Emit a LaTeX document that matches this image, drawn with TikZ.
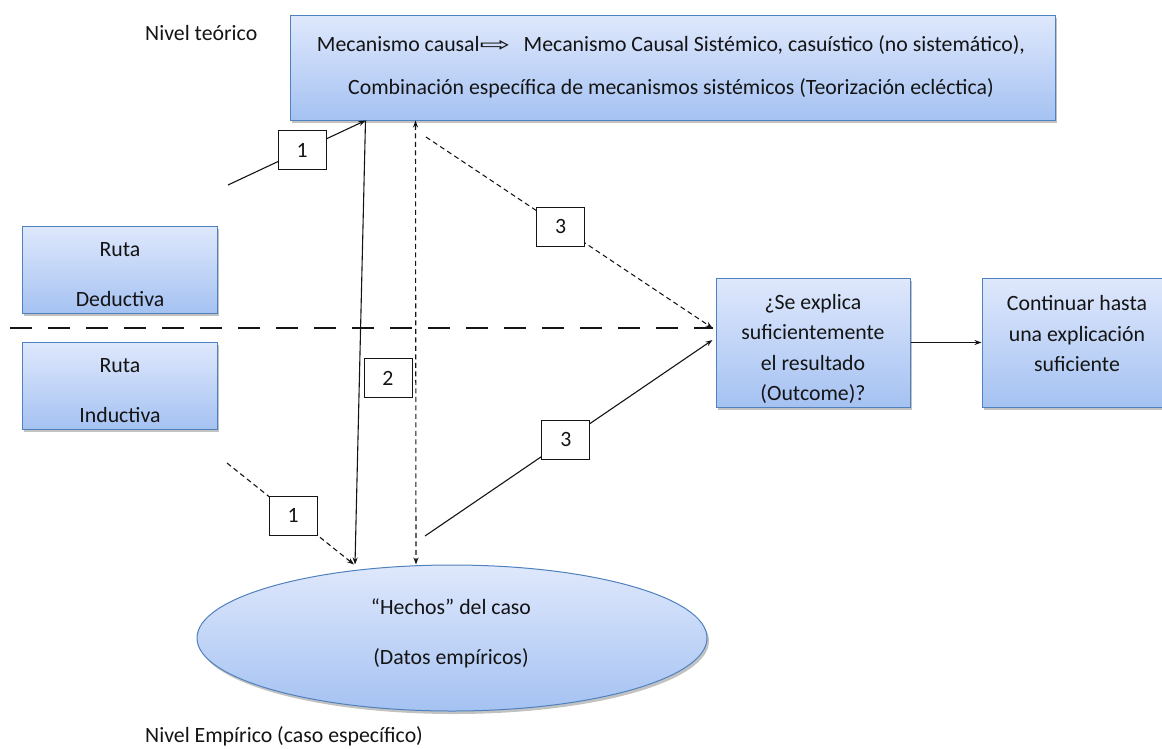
\documentclass[tikz,border=0pt]{standalone}
\usepackage{fontspec}
\setmainfont{Carlito}
\newfontfamily\symfont{DejaVu Sans}
\usetikzlibrary{arrows.meta,shapes.geometric,shadows,calc}

\definecolor{boxtop}{HTML}{DFE8FC}
\definecolor{boxbot}{HTML}{A5C2F2}
\definecolor{boxedge}{HTML}{4F81BD}
\definecolor{ink}{HTML}{141414}

\begin{document}
\begin{tikzpicture}[x=1pt,y=-1pt,
  font=\fontsize{21.8}{30.5}\selectfont, text=ink,
  panel/.style={draw=boxedge, line width=1pt, top color=boxtop, bottom color=boxbot,
    drop shadow={shadow xshift=2pt, shadow yshift=-3pt, fill=black!40, opacity=0.6},
    inner sep=0pt},
  txt/.style={align=center, inner sep=0pt},
  numbox/.style={solid, draw=ink, fill=white, line width=1pt, minimum width=48pt,
    minimum height=39pt, inner sep=0pt},
  link/.style={line width=1.1pt, draw=ink, -{Stealth[length=7pt,width=5pt]}},
  dlink/.style={link, dash pattern=on 5pt off 3.5pt},
  bothways/.style={{Stealth[length=7pt,width=5pt]}-{Stealth[length=7pt,width=5pt]}}
]
\useasboundingbox (0,0) rectangle (1162,748);

% level labels
\node[anchor=west, inner sep=0pt] (nt) at (145,33) {Nivel teórico};
\node[anchor=west, inner sep=0pt] (ne) at (145,736) {Nivel Empírico (caso específico)};

% theoretical level
\node[panel, minimum width=765pt, minimum height=105pt] (top) at (672.5,67.5) {};
\node[txt] (toptxt) at (671,66.5)
  {Mecanismo causal\scalebox{1.7}[0.9]{\symfont ⇨}\hspace{13pt}Mecanismo Causal Sistémico, casuístico (no sistemático),\\[12.5pt]
   Combinación específica de mecanismos sistémicos (Teorización ecléctica)};

% routes
\node[panel, minimum width=195pt, minimum height=87pt] (ded) at (119.5,269.5) {};
\node[txt] (dedtxt) at (120,275) {Ruta\\[19.5pt]Deductiva};
\node[panel, minimum width=195pt, minimum height=87pt] (ind) at (119.5,385.5) {};
\node[txt] (indtxt) at (120,391) {Ruta\\[19.5pt]Inductiva};

% outcome check
\node[panel, minimum width=194pt, minimum height=129pt] (out) at (813,342.5) {};
\node[txt] (outtxt) at (813,349) {¿Se explica\\suficientemente\\el resultado\\(Outcome)?};
\node[panel, minimum width=190pt, minimum height=129pt] (cont) at (1077,342.5) {};
\node[txt] (conttxt) at (1077,334) {Continuar hasta\\una explicación\\suficiente};

% empirical level
\node[panel, ellipse, minimum width=510pt, minimum height=146pt] (hechos) at (452,638) {};
\node[txt] (hechostxt) at (451,633) {“Hechos” del caso\\[19.5pt](Datos empíricos)};

% divider between the two routes
\coordinate (hl) at (0,328);
\draw[line width=1.3pt, draw=ink, dash pattern=on 22pt off 16pt, dash phase=28pt]
  (hl) -- ([xshift=-3pt,yshift=14.5pt]out.west);

% step 1 (deductive and inductive)
\coordinate (a1s) at (228,185);
\draw[link] (a1s) -- node[numbox, pos=0.54] (n1a) {1} ([xshift=76pt]top.south west);
\coordinate (a1b) at (227,463);
\draw[dlink] (a1b) -- node[numbox, pos=0.52] (n1b) {1} ([xshift=-98pt]hechos.north);

% step 2
\draw[link] ([xshift=76pt]top.south west) -- ([xshift=-97pt]hechos.north);
\draw[dlink, bothways] ([xshift=126pt]top.south west) -- ([xshift=-36pt]hechos.north);
\node[numbox] (n2) at (388,378) {2};

% step 3
\coordinate (a3s) at (426,137);
\draw[dlink] (a3s) -- node[numbox, pos=0.47] (n3a) {3} ([xshift=-3pt,yshift=14.5pt]out.west);
\coordinate (a3b) at (425,536);
\draw[link] (a3b) -- node[numbox, pos=0.49] (n3b) {3} ([xshift=-3pt,yshift=2.5pt]out.west);

% continue
\draw[link] (out.east) -- (cont.west);
\end{tikzpicture}
\end{document}
